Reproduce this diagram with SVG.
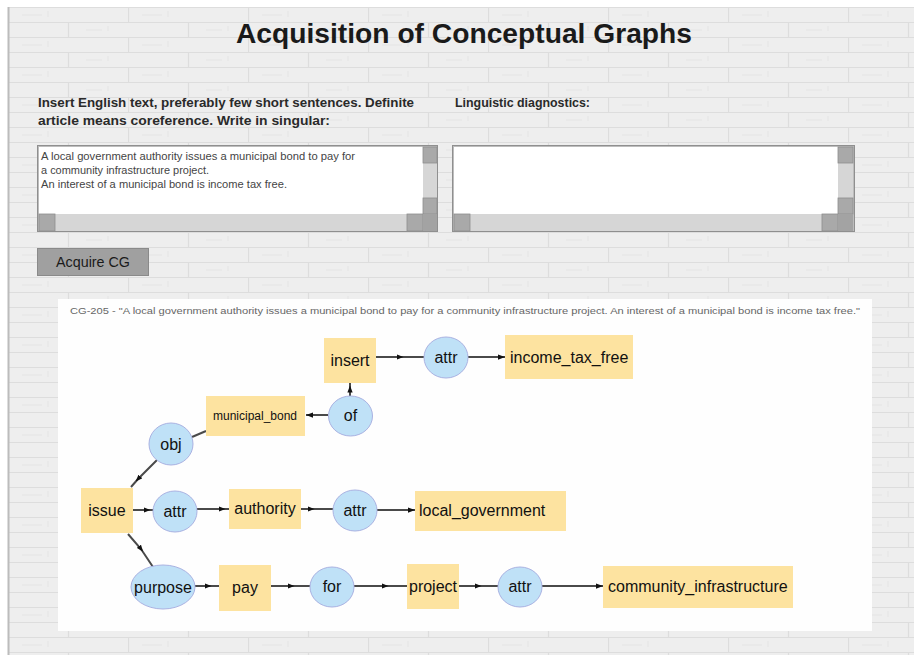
<svg xmlns="http://www.w3.org/2000/svg" width="914" height="655" viewBox="0 0 914 655">
<defs>
<pattern id="brick" x="8" y="7" width="120" height="30" patternUnits="userSpaceOnUse">
<rect width="120" height="30" fill="#eeeeee"/>
<path d="M0,0.5 H120 M0,15.5 H120 M0.5,0 V15 M60.5,15 V30" stroke="#dddddd" stroke-width="1.2" fill="none"/>
<path d="M14,8 h20 M78,23 h16 M40,4 v6 M100,19 v5" stroke="#e5e5e5" stroke-width="1" fill="none"/>
</pattern>
<marker id="am" viewBox="0 0 8 6" refX="4" refY="3" markerWidth="7" markerHeight="5.5" markerUnits="userSpaceOnUse" orient="auto">
<path d="M0,0 L8,3 L0,6 z" fill="#111"/>
</marker>
<marker id="ae" viewBox="0 0 8 6" refX="8" refY="3" markerWidth="7" markerHeight="5.5" markerUnits="userSpaceOnUse" orient="auto">
<path d="M0,0 L8,3 L0,6 z" fill="#111"/>
</marker>
<style>
.c{fill:#fde3a0}
.r{fill:#bfe1f7;stroke:#aab2e2;stroke-width:1}
.t{font-family:"Liberation Sans",Arial,sans-serif;font-size:16px;fill:#111}
.m{text-anchor:middle}
.e{fill:none;stroke:#4a4a4a;stroke-width:2}
.sb{fill:#a9a9a9;stroke:#8e8e8e;stroke-width:0.8}
.tr{fill:#d6d6d6}
.ui{font-family:"Liberation Sans",Arial,sans-serif}
</style>
</defs>

<rect width="914" height="655" fill="#ffffff"/>
<rect x="8" y="7" width="906" height="648" fill="url(#brick)"/>
<line x1="8.5" y1="7" x2="8.5" y2="655" stroke="#bcbcbc" stroke-width="2"/>

<g id="header">
<text x="464" y="43" class="ui m" font-size="28" font-weight="bold" fill="#1a1a1a" textLength="456" lengthAdjust="spacingAndGlyphs">Acquisition of Conceptual Graphs</text>
<text x="38" y="107" class="ui" font-size="12" font-weight="bold" fill="#2a2a2a" textLength="376" lengthAdjust="spacingAndGlyphs">Insert English text, preferably few short sentences. Definite</text>
<text x="38" y="125" class="ui" font-size="12" font-weight="bold" fill="#2a2a2a" textLength="292" lengthAdjust="spacingAndGlyphs">article means coreference. Write in singular:</text>
<text x="455" y="107" class="ui" font-size="12" font-weight="bold" fill="#2a2a2a" textLength="135" lengthAdjust="spacingAndGlyphs">Linguistic diagnostics:</text>
</g>

<g id="input-textarea">
<rect x="37.5" y="145.5" width="400" height="86" fill="#bdbdbd" stroke="#8f8f8f"/>
<rect x="39" y="147" width="384" height="67" fill="#ffffff"/>
<rect x="423" y="147" width="14" height="67" class="tr"/>
<rect x="423" y="147" width="14" height="16" class="sb"/>
<rect x="423" y="198" width="14" height="16" class="sb"/>
<rect x="39" y="214" width="384" height="17" class="tr"/>
<rect x="39" y="214" width="16" height="17" class="sb"/>
<rect x="407" y="214" width="16" height="17" class="sb"/>
<rect x="423" y="214" width="14" height="17" fill="#a3a3a3"/>
<text x="41" y="160" class="ui" font-size="10.5" fill="#444" textLength="314" lengthAdjust="spacingAndGlyphs">A local government authority issues a municipal bond to pay for</text>
<text x="41" y="174" class="ui" font-size="10.5" fill="#444" textLength="168" lengthAdjust="spacingAndGlyphs">a community infrastructure project.</text>
<text x="41" y="188" class="ui" font-size="10.5" fill="#444" textLength="246" lengthAdjust="spacingAndGlyphs">An interest of a municipal bond is income tax free.</text>
</g>

<g id="diagnostics-textarea">
<rect x="452.5" y="145.5" width="402" height="86" fill="#bdbdbd" stroke="#8f8f8f"/>
<rect x="454" y="147" width="384" height="67" fill="#ffffff"/>
<rect x="838" y="147" width="15" height="67" class="tr"/>
<rect x="838" y="147" width="15" height="16" class="sb"/>
<rect x="838" y="198" width="15" height="16" class="sb"/>
<rect x="454" y="214" width="384" height="17" class="tr"/>
<rect x="454" y="214" width="16" height="17" class="sb"/>
<rect x="822" y="214" width="16" height="17" class="sb"/>
<rect x="838" y="214" width="15" height="17" fill="#a3a3a3"/>
</g>

<g id="acquire-button">
<rect x="37.5" y="248.5" width="111" height="27" fill="#a0a0a0" stroke="#8a8a8a"/>
<text x="93" y="267" class="ui m" font-size="14" fill="#1a1a1a" textLength="74" lengthAdjust="spacingAndGlyphs">Acquire CG</text>
</g>

<g id="graph-panel">
<rect x="58" y="299" width="814" height="332" fill="#fefefe"/>
<text x="70" y="314" class="ui" font-size="9.5" fill="#666" textLength="790" lengthAdjust="spacingAndGlyphs">CG-205 - "A local government authority issues a municipal bond to pay for a community infrastructure project. An interest of a municipal bond is income tax free."</text>
</g>

<g id="connectors">
<path class="e" d="M376,357 L400,357 L424,357" marker-mid="url(#am)"/>
<path class="e" d="M468,357 L505,357" marker-end="url(#ae)"/>
<path class="e" d="M350,396 L350,389 L350,383" marker-mid="url(#am)"/>
<path class="e" d="M328,415 L306,415" marker-end="url(#ae)"/>
<path class="e" d="M192,437 L206,431"/>
<path class="e" d="M157,460 L138,479 L131,487" marker-mid="url(#am)"/>
<path class="e" d="M128,534 L141,549 L153,567" marker-mid="url(#am)"/>
<path class="e" d="M133,510 L147,510 L153,510" marker-mid="url(#am)"/>
<path class="e" d="M197,509 L222,509 L229,509" marker-mid="url(#am)"/>
<path class="e" d="M301,509 L311,509 L333,509" marker-mid="url(#am)"/>
<path class="e" d="M377,510 L415,510" marker-end="url(#ae)"/>
<path class="e" d="M195,586 L208,586 L219,586" marker-mid="url(#am)"/>
<path class="e" d="M271,586 L291,586 L310,586" marker-mid="url(#am)"/>
<path class="e" d="M354,586 L385,586 L407,586" marker-mid="url(#am)"/>
<path class="e" d="M459,586 L478,586 L498,586" marker-mid="url(#am)"/>
<path class="e" d="M542,586 L603,586" marker-end="url(#ae)"/>
</g>

<g id="n-insert"><rect class="c" x="324" y="338" width="52" height="45"/><text class="t m" x="350" y="366">insert</text></g>
<g id="n-attr1"><ellipse class="r" cx="446" cy="357.5" rx="22" ry="20.5"/><text class="t m" x="446" y="363">attr</text></g>
<g id="n-income_tax_free"><rect class="c" x="505" y="335" width="128" height="44"/><text class="t" x="510" y="363">income_tax_free</text></g>
<g id="n-of"><ellipse class="r" cx="350.5" cy="416" rx="22" ry="20"/><text class="t m" x="350.5" y="421">of</text></g>
<g id="n-municipal_bond"><rect class="c" x="206" y="396" width="99" height="40"/><text class="t m" x="255" y="420" style="font-size:12px">municipal_bond</text></g>
<g id="n-obj"><ellipse class="r" cx="171" cy="444" rx="22" ry="21"/><text class="t m" x="171" y="450">obj</text></g>
<g id="n-issue"><rect class="c" x="81" y="488" width="52" height="45"/><text class="t m" x="107" y="516">issue</text></g>
<g id="n-attr2"><ellipse class="r" cx="175" cy="511.5" rx="22" ry="20.5"/><text class="t m" x="175" y="517">attr</text></g>
<g id="n-authority"><rect class="c" x="229" y="489" width="72" height="40"/><text class="t m" x="265" y="514">authority</text></g>
<g id="n-attr3"><ellipse class="r" cx="355" cy="510.5" rx="22" ry="20.5"/><text class="t m" x="355" y="516">attr</text></g>
<g id="n-local_government"><rect class="c" x="415" y="491" width="151" height="40"/><text class="t" x="419" y="516">local_government</text></g>
<g id="n-purpose"><ellipse class="r" cx="163" cy="587" rx="32" ry="22"/><text class="t m" x="163" y="593">purpose</text></g>
<g id="n-pay"><rect class="c" x="219" y="565" width="52" height="46"/><text class="t m" x="245" y="593">pay</text></g>
<g id="n-for"><ellipse class="r" cx="332" cy="587" rx="22" ry="20"/><text class="t m" x="332" y="592">for</text></g>
<g id="n-project"><rect class="c" x="407" y="564" width="52" height="45"/><text class="t m" x="433" y="592">project</text></g>
<g id="n-attr4"><ellipse class="r" cx="520" cy="587" rx="22" ry="20"/><text class="t m" x="520" y="592">attr</text></g>
<g id="n-community_infrastructure"><rect class="c" x="603" y="566" width="190" height="42"/><text class="t" x="608" y="592">community_infrastructure</text></g>
</svg>
